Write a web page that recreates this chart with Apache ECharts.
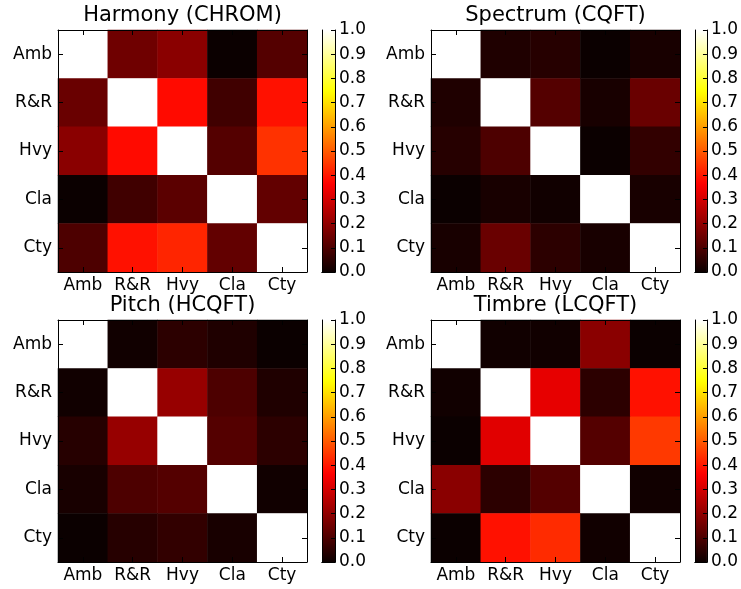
<!DOCTYPE html>
<html>
<head>
<meta charset="utf-8">
<script src="https://cdn.jsdelivr.net/npm/echarts@6/dist/echarts.min.js"></script>
<style>
html,body{margin:0;padding:0;background:#fff;}
#main{width:741px;height:589px;}
</style>
</head>
<body>
<div id="main"></div>
<script>
// ---- data ----
const categories = ['Amb', 'R&R', 'Hvy', 'Cla', 'Cty'];
const titles = ['Harmony (CHROM)', 'Spectrum (CQFT)', 'Pitch (HCQFT)', 'Timbre (LCQFT)'];
const harmony = [
  [1.00, 0.15, 0.19, 0.00, 0.11],
  [0.14, 1.00, 0.38, 0.08, 0.39],
  [0.19, 0.38, 1.00, 0.11, 0.44],
  [0.00, 0.08, 0.12, 1.00, 0.13],
  [0.10, 0.39, 0.42, 0.13, 1.00]
];
const spectrum = [
  [1.00, 0.03, 0.04, 0.00, 0.02],
  [0.03, 1.00, 0.11, 0.02, 0.14],
  [0.04, 0.10, 1.00, 0.00, 0.06],
  [0.00, 0.02, 0.01, 1.00, 0.02],
  [0.02, 0.14, 0.05, 0.02, 1.00]
];
const pitch = [
  [1.00, 0.01, 0.05, 0.03, 0.00],
  [0.01, 1.00, 0.21, 0.10, 0.03],
  [0.04, 0.21, 1.00, 0.11, 0.05],
  [0.02, 0.10, 0.11, 1.00, 0.01],
  [0.00, 0.04, 0.06, 0.02, 1.00]
];
const timbre = [
  [1.00, 0.01, 0.01, 0.19, 0.00],
  [0.01, 1.00, 0.33, 0.05, 0.39],
  [0.00, 0.32, 1.00, 0.11, 0.45],
  [0.19, 0.05, 0.11, 1.00, 0.01],
  [0.00, 0.39, 0.43, 0.01, 1.00]
];
const colorbarMin = 0;
const colorbarMax = 1;
const colorbarStep = 0.1;

// ---- style / layout ----
const FONT = 'DejaVu Sans';
const matrices = [harmony, spectrum, pitch, timbre];
const panels = [
  {left: 58, top: 30}, {left: 431, top: 30},
  {left: 58, top: 320}, {left: 431, top: 320}
];
const HW = 249, HH = 242, CBOFF = 264, CBW = 13;

// matplotlib "hot" colormap
function hot(x) {
  const r = Math.min(1, 0.0416 + x / 0.365079 * (1 - 0.0416));
  const g = Math.max(0, Math.min(1, (x - 0.365079) / (0.746032 - 0.365079)));
  const b = Math.max(0, Math.min(1, (x - 0.746032) / (1 - 0.746032)));
  const h = v => Math.round(v * 255).toString(16).padStart(2, '0');
  return '#' + h(r) + h(g) + h(b);
}
const nStops = 64;
const cmap = [];
for (let i = 0; i <= nStops; i++) cmap.push(hot(i / nStops));
const cbStops = [];
for (let i = 0; i <= nStops; i++) cbStops.push({offset: i / nStops, color: hot(i / nStops)});

const grid = [], xAxis = [], yAxis = [], series = [], title = [];
const lbl = {color: '#000', fontSize: 17, fontFamily: FONT, interval: 0};
const tick = {show: true, inside: true, length: 5, alignWithLabel: true, interval: 0, lineStyle: {color: '#000', width: 1}};
const line = {show: true, lineStyle: {color: '#000', width: 1}};

panels.forEach((p, i) => {
  grid.push({left: p.left, top: p.top, width: HW, height: HH, containLabel: false});
  title.push({
    text: titles[i], left: p.left + HW / 2, top: p.top - 25, textAlign: 'center', padding: 0,
    textStyle: {fontSize: 21, fontWeight: 'normal', color: '#000', fontFamily: FONT}
  });
});
panels.forEach((p, i) => {
  grid.push({left: p.left + CBOFF, top: p.top, width: CBW, height: HH, containLabel: false});
});

// heatmap axes
panels.forEach((p, i) => {
  xAxis.push({type: 'category', data: categories, gridIndex: i, position: 'bottom', z: 10,
    axisLine: line, axisTick: tick, axisLabel: Object.assign({margin: 5}, lbl), splitLine: {show: false}});
  xAxis.push({type: 'category', data: categories, gridIndex: i, position: 'top', z: 10,
    axisLine: line, axisTick: tick, axisLabel: {show: false}, splitLine: {show: false}});
  yAxis.push({type: 'category', data: categories, gridIndex: i, position: 'left', inverse: true, z: 10,
    axisLine: line, axisTick: tick, axisLabel: Object.assign({margin: 6}, lbl), splitLine: {show: false}});
  yAxis.push({type: 'category', data: categories, gridIndex: i, position: 'right', inverse: true, z: 10,
    axisLine: line, axisTick: tick, axisLabel: {show: false}, splitLine: {show: false}});
});
// colorbar axes
panels.forEach((p, i) => {
  const g = 4 + i;
  xAxis.push({type: 'category', data: [''], gridIndex: g, position: 'bottom', z: 10,
    axisLine: line, axisTick: {show: false}, axisLabel: {show: false}});
  xAxis.push({type: 'category', data: [''], gridIndex: g, position: 'top', z: 10,
    axisLine: line, axisTick: {show: false}, axisLabel: {show: false}});
  yAxis.push({type: 'value', gridIndex: g, position: 'left', min: colorbarMin, max: colorbarMax, z: 10,
    axisLine: line, axisTick: {show: false}, axisLabel: {show: false}, splitLine: {show: false}});
  yAxis.push({type: 'value', gridIndex: g, position: 'right', min: colorbarMin, max: colorbarMax,
    interval: colorbarStep, z: 10,
    axisLine: line, axisTick: {show: true, inside: true, length: 4, lineStyle: {color: '#000'}},
    axisLabel: {margin: 4, color: '#000', fontSize: 17, fontFamily: FONT, formatter: v => v.toFixed(1)},
    splitLine: {show: false}});
});

matrices.forEach((m, i) => {
  const data = [];
  m.forEach((row, r) => row.forEach((v, c) => data.push([c, r, v])));
  series.push({type: 'heatmap', xAxisIndex: 2 * i, yAxisIndex: 2 * i, data: data,
    itemStyle: {borderWidth: 0}, emphasis: {disabled: true}, progressive: 0});
});
panels.forEach((p, i) => {
  series.push({type: 'bar', xAxisIndex: 8 + 2 * i, yAxisIndex: 9 + 2 * i, data: [colorbarMax],
    barWidth: '100%', silent: true,
    itemStyle: {color: {type: 'linear', x: 0, y: 1, x2: 0, y2: 0, colorStops: cbStops}}});
});

const chart = echarts.init(document.getElementById('main'), null, {renderer: 'canvas'});
chart.setOption({
  backgroundColor: '#fff',
  animation: false,
  title: title,
  grid: grid,
  xAxis: xAxis,
  yAxis: yAxis,
  visualMap: {type: 'continuous', show: false, min: colorbarMin, max: colorbarMax,
    seriesIndex: [0, 1, 2, 3], inRange: {color: cmap}},
  series: series
});
</script>
</body>
</html>
